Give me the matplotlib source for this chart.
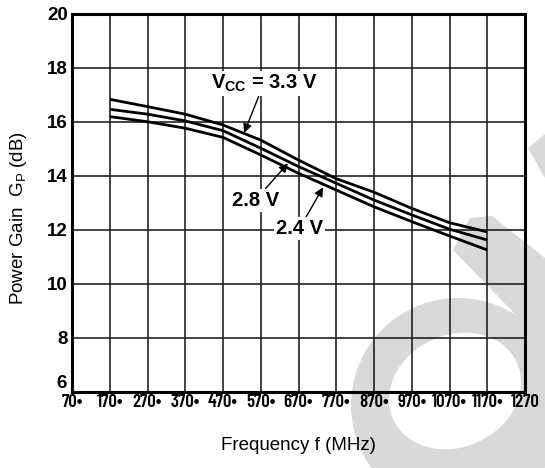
import matplotlib
matplotlib.use("Agg")
import matplotlib.pyplot as plt
from matplotlib.patches import Ellipse, Polygon

plt.rcParams['font.family'] = ['Liberation Sans', 'DejaVu Sans']
plt.rcParams['mathtext.fontset'] = 'custom'
plt.rcParams['mathtext.rm'] = 'Liberation Sans'
plt.rcParams['mathtext.bf'] = 'Liberation Sans:bold'
plt.rcParams['mathtext.it'] = 'Liberation Sans'

# Power gain vs. frequency for three supply voltages
freq_mhz = [170, 270, 370, 470, 570, 670, 770, 870, 970, 1070, 1170]
gain_3v3 = [16.84, 16.57, 16.29, 15.89, 15.33, 14.59, 13.90, 13.40, 12.80, 12.27, 11.93]
gain_2v8 = [16.47, 16.29, 16.04, 15.68, 15.03, 14.35, 13.73, 13.11, 12.56, 12.03, 11.63]
gain_2v4 = [16.20, 16.01, 15.77, 15.43, 14.78, 14.10, 13.48, 12.86, 12.31, 11.78, 11.26]

x_ticks = [70, 170, 270, 370, 470, 570, 670, 770, 870, 970, 1070, 1170, 1270]
x_tick_labels = [f"{v}\u2022" for v in x_ticks[:-1]] + [str(x_ticks[-1])]
y_ticks = [6, 8, 10, 12, 14, 16, 18, 20]

fig = plt.figure(figsize=(5.45, 4.68), dpi=100)

# background watermark, drawn in pixel units
bg = fig.add_axes([0, 0, 1, 1], zorder=-5)
bg.set_xlim(0, 545)
bg.set_ylim(468, 0)
bg.axis('off')
wm = '#d9d9d9'
bg.add_patch(Ellipse((458, 405), 214, 214, fc=wm, ec='none'))
bg.add_patch(Polygon([(470, 218), (492, 216), (545, 258), (545, 345), (453, 250)],
                     closed=True, fc=wm, ec='none'))
bg.add_patch(Polygon([(528, 148), (545, 134), (545, 178)], closed=True, fc=wm, ec='none'))
bg.add_patch(Ellipse((455, 391), 136, 112, angle=-25, fc='white', ec='none'))

ax = fig.add_axes([72 / 545, 1 - 392 / 468, 453 / 545, 378 / 468])
ax.set_facecolor('none')
ax.set_xlim(70, 1270)
ax.set_ylim(6, 20)

ax.set_xticks(x_ticks)
ax.set_xticklabels(x_tick_labels, fontsize=13.5, fontweight=600,
                   family=['Barlow Condensed', 'Liberation Sans'])
ax.set_yticks(y_ticks)
ax.set_yticklabels([""] + [str(v) for v in y_ticks[1:]], fontsize=13.5, fontweight='bold')
ax.text(-0.012, y_ticks[0], str(y_ticks[0]), transform=ax.get_yaxis_transform(),
        ha='right', va='bottom', fontsize=13.5, fontweight='bold')
ax.tick_params(length=0, pad=3)
ax.tick_params(axis='x', pad=1.5)

ax.grid(True, color='#222222', linewidth=1.2)
ax.set_axisbelow(True)
for s in ax.spines.values():
    s.set_linewidth(2.2)
    s.set_color('black')

for g in (gain_3v3, gain_2v8, gain_2v4):
    ax.plot(freq_mhz, g, color='black', linewidth=2.0, solid_capstyle='butt', zorder=3)

ax.set_xlabel('Frequency f (MHz)', fontsize=13.5, labelpad=19)
ax.set_ylabel(r'Power Gain  G$_{\rm P}$ (dB)', fontsize=13.5)
ax.yaxis.set_label_coords(-0.095, 0.46)

arrow = dict(arrowstyle='-|>', color='black', lw=1.0, mutation_scale=13, shrinkA=0, shrinkB=0)
box = dict(fc='white', ec='none', pad=1.5)
ax.annotate(r'V$_{\mathbf{CC}}$ = 3.3 V', xy=(526, 15.6), xytext=(578, 17.42),
            ha='center', va='center', fontsize=14.5, fontweight='bold',
            bbox=box, arrowprops=arrow, zorder=5)
ax.annotate('2.8 V', xy=(642, 14.47), xytext=(556, 13.11),
            ha='center', va='center', fontsize=14.5, fontweight='bold',
            bbox=box, arrowprops=arrow, zorder=5)
ax.annotate('2.4 V', xy=(735, 13.58), xytext=(672, 12.04),
            ha='center', va='center', fontsize=14.5, fontweight='bold',
            bbox=box, arrowprops=arrow, zorder=5)

fig.savefig('out.png', dpi=100)
